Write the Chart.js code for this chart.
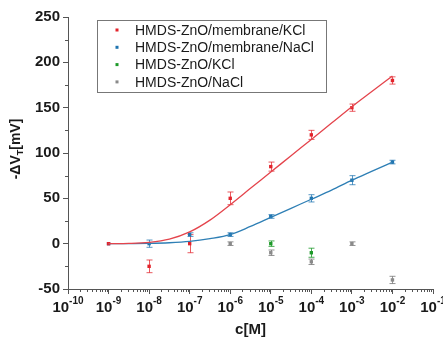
<!DOCTYPE html>
<html><head><meta charset="utf-8">
<script src="https://cdn.jsdelivr.net/npm/chart.js@4.4.0/dist/chart.umd.min.js"></script>
<style>html,body{margin:0;padding:0;background:#fff}#wrap{width:443px;height:339px}</style>
</head><body><div id="wrap"><canvas id="c" width="443" height="339"></canvas></div>
<script>
// concentrations (M)
const conc = [1e-9, 1e-8, 1e-7, 1e-6, 1e-5, 1e-4, 1e-3, 1e-2];
// HMDS-ZnO/membrane/KCl
const redVals = [0, -25, 0, 50, 85, 120, 150, 180];
const redErr  = [0, 7, 10, 7, 5, 5, 4, 4];
// HMDS-ZnO/membrane/NaCl
const blueVals = [0, 0, 10, 10, 30, 50, 70, 90];
const blueErr  = [0, 4, 2, 2, 2, 4, 5, 2];
// HMDS-ZnO/KCl
const greenConc = [1e-5, 1e-4];
const greenVals = [0, -10];
const greenErr  = [3, 5];
// HMDS-ZnO/NaCl
const greyConc = [1e-6, 1e-5, 1e-4, 1e-3, 1e-2];
const greyVals = [0, -10, -20, 0, -40];
const greyErr  = [2, 3, 3, 2, 4];
// fit curves
const fitConc = [1e-9, 3.16e-9, 1e-8, 3.16e-8, 1e-7, 3.16e-7, 1e-6, 3.16e-6, 1e-5, 3.16e-5, 1e-4, 3.16e-4, 1e-3, 3.16e-3, 1e-2];
const redFit  = [0, 0.3, 1.5, 5, 13, 26, 43, 61, 79, 97, 115, 133, 151, 168, 185];
const blueFit = [0, 0.1, 0.3, 1, 2.5, 5.5, 10, 19, 29, 39, 49, 59, 70, 80, 90];
// axis ticks
const xDecades = [-10, -9, -8, -7, -6, -5, -4, -3, -2, -1];
const yTicks = [-50, 0, 50, 100, 150, 200, 250];
const legendLabels = ['HMDS-ZnO/membrane/KCl', 'HMDS-ZnO/membrane/NaCl', 'HMDS-ZnO/KCl', 'HMDS-ZnO/NaCl'];

const RED = '#e3232b', BLUE = '#1f74b0', GREEN = '#1e9a2a', GREY = '#8a8a8a';
const FONT = "'Liberation Sans', Arial, sans-serif";

function pts(xs, ys){ return xs.map((x,i)=>({x:x, y:ys[i]})); }

const errSets = [
  {xs: conc, ys: redVals, e: redErr, c: 'rgba(227,35,43,0.75)'},
  {xs: conc, ys: blueVals, e: blueErr, c: 'rgba(31,116,176,0.75)'},
  {xs: greenConc, ys: greenVals, e: greenErr, c: 'rgba(30,154,42,0.8)'},
  {xs: greyConc, ys: greyVals, e: greyErr, c: 'rgba(120,120,120,0.8)'}
];

const extras = {
  id: 'extras',
  beforeDatasetsDraw(chart){
    const ctx = chart.ctx, xs = chart.scales.x, ys = chart.scales.y;
    ctx.save();
    ctx.lineWidth = 1;
    errSets.forEach(s=>{
      ctx.strokeStyle = s.c;
      s.xs.forEach((x,i)=>{
        if(!s.e[i]) return;
        const px = Math.round(xs.getPixelForValue(x))+0.5;
        const y1 = ys.getPixelForValue(s.ys[i]+s.e[i]);
        const y2 = ys.getPixelForValue(s.ys[i]-s.e[i]);
        ctx.beginPath();
        ctx.moveTo(px, y1); ctx.lineTo(px, y2);
        ctx.moveTo(px-3, y1); ctx.lineTo(px+3, y1);
        ctx.moveTo(px-3, y2); ctx.lineTo(px+3, y2);
        ctx.stroke();
      });
    });
    ctx.restore();
  },
  afterDraw(chart){
    const ctx = chart.ctx, xs = chart.scales.x, ys = chart.scales.y;
    const area = chart.chartArea;
    ctx.save();
    ctx.strokeStyle = '#555'; ctx.lineWidth = 1;
    // minor x ticks
    ctx.beginPath();
    for(let n=-10;n<=-2;n++){
      for(let k=2;k<=9;k++){
        const px = Math.round(xs.getPixelForValue(k*Math.pow(10,n)))+0.5;
        ctx.moveTo(px, area.bottom); ctx.lineTo(px, area.bottom+3);
      }
    }
    // minor y ticks
    for(let v=-25; v<250; v+=50){
      const py = Math.round(ys.getPixelForValue(v))+0.5;
      ctx.moveTo(area.left, py); ctx.lineTo(area.left-3, py);
    }
    ctx.stroke();
    // x tick labels 10^n
    ctx.fillStyle = '#1a1a1a';
    ctx.textBaseline = 'alphabetic';
    xDecades.forEach(n=>{
      const px = xs.getPixelForValue(Math.pow(10,n));
      ctx.font = 'bold 15px ' + FONT;
      const w1 = ctx.measureText('10').width;
      ctx.font = 'bold 10px ' + FONT;
      const sup = String(n);
      const w2 = ctx.measureText(sup).width;
      const x0 = px - (w1+w2)/2;
      ctx.font = 'bold 15px ' + FONT;
      ctx.textAlign = 'left';
      ctx.fillText('10', x0, 312);
      ctx.font = 'bold 10px ' + FONT;
      ctx.fillText(sup, x0+w1, 304);
    });
    // x title
    ctx.font = 'bold 15px ' + FONT;
    ctx.textAlign = 'center';
    ctx.fillText('c[M]', (area.left+area.right)/2, 334);
    // y title -ΔV_T[mV] rotated
    ctx.save();
    ctx.translate(15, (area.top+area.bottom)/2 - 4);
    ctx.rotate(-Math.PI/2);
    ctx.font = 'bold 14px ' + FONT;
    const a = '-ΔV', b = 'T', c = '[mV]';
    const wa = ctx.measureText(a).width, wc = ctx.measureText(c).width;
    ctx.font = 'bold 9px ' + FONT;
    const wb = ctx.measureText(b).width;
    let sx = -(wa+wb+wc)/2;
    ctx.textAlign = 'left';
    ctx.font = 'bold 14px ' + FONT;
    ctx.fillText(a, sx, 5);
    ctx.font = 'bold 9px ' + FONT;
    ctx.fillText(b, sx+wa, 8);
    ctx.font = 'bold 14px ' + FONT;
    ctx.fillText(c, sx+wa+wb, 5);
    ctx.restore();
    // legend
    const lx = 97.5, ly = 20.5, lw = 229, lh = 72;
    ctx.strokeStyle = '#777'; ctx.lineWidth = 1;
    ctx.strokeRect(lx, ly, lw, lh);
    const cols = [RED, BLUE, GREEN, GREY];
    ctx.font = '14px ' + FONT;
    ctx.textAlign = 'left';
    ctx.textBaseline = 'middle';
    legendLabels.forEach((t,i)=>{
      const yy = 30 + i*17.3;
      ctx.fillStyle = cols[i];
      ctx.fillRect(115.5, yy-1.5, 3, 3);
      ctx.fillStyle = '#1a1a1a';
      ctx.fillText(t, 135, yy+1);
    });
    ctx.restore();
  }
};

new Chart(document.getElementById('c'), {
  type: 'scatter',
  data: {
    datasets: [
      {label:'fitR', data: pts(fitConc, redFit), showLine:true, borderColor:'#e4444c', borderWidth:1.3, pointRadius:0, tension:0.4, cubicInterpolationMode:'monotone'},
      {label:'fitB', data: pts(fitConc, blueFit), showLine:true, borderColor:'#2e7fb5', borderWidth:1.3, pointRadius:0, tension:0.4, cubicInterpolationMode:'monotone'},
      {label:legendLabels[0], data: pts(conc, redVals), pointStyle:'rect', pointRadius:2.4, backgroundColor:RED, borderColor:RED, borderWidth:0},
      {label:legendLabels[1], data: pts(conc, blueVals), pointStyle:'rect', pointRadius:2.4, backgroundColor:BLUE, borderColor:BLUE, borderWidth:0},
      {label:legendLabels[2], data: pts(greenConc, greenVals), pointStyle:'rect', pointRadius:2.4, backgroundColor:GREEN, borderColor:GREEN, borderWidth:0},
      {label:legendLabels[3], data: pts(greyConc, greyVals), pointStyle:'rect', pointRadius:2.4, backgroundColor:GREY, borderColor:GREY, borderWidth:0}
    ]
  },
  options: {
    responsive: false,
    animation: false,
    devicePixelRatio: 1,
    layout: {padding: {left: 0, right: 10, top: 17, bottom: 0}},
    plugins: {legend: {display:false}, tooltip: {enabled:false}},
    scales: {
      x: {
        type: 'logarithmic', min: 1e-10, max: 1e-1,
        afterBuildTicks(s){ s.ticks = xDecades.map(n=>({value: Math.pow(10,n)})); },
        afterFit(s){ s.height = 50; },
        ticks: {display: false},
        grid: {drawOnChartArea:false, drawTicks:true, tickLength:5, color:'#555'},
        border: {display:true, color:'#555', width:1}
      },
      y: {
        min: -50, max: 250,
        afterBuildTicks(s){ s.ticks = yTicks.map(v=>({value:v})); },
        afterFit(s){ s.width = 68; },
        ticks: {font:{family:FONT, size:15, weight:'bold'}, color:'#1a1a1a', padding:3},
        grid: {drawOnChartArea:false, drawTicks:true, tickLength:5, color:'#555'},
        border: {display:true, color:'#555', width:1}
      }
    }
  },
  plugins: [extras]
});
</script></body></html>
